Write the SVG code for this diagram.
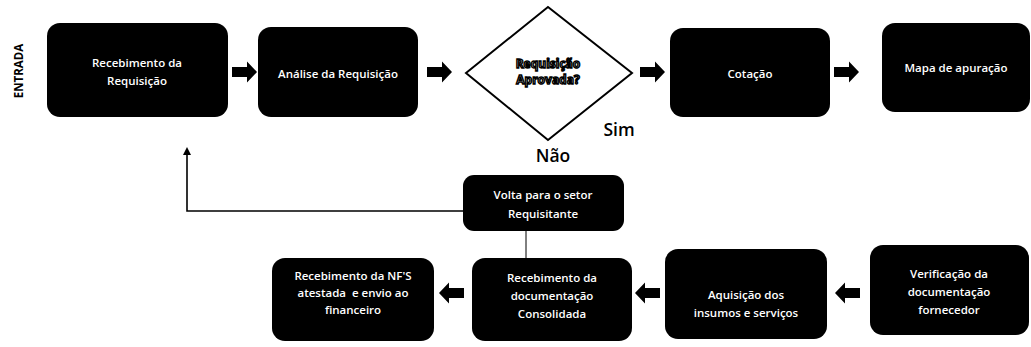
<svg xmlns="http://www.w3.org/2000/svg" width="1031" height="347" viewBox="0 0 1031 347">
<style>
.box{fill:#000;}
.t{font-family:"Open Sans","Noto Sans",sans-serif;font-size:11.5px;font-weight:600;fill:#fff;text-anchor:middle;dominant-baseline:central;white-space:pre;}
.lbl{font-family:"Open Sans","Noto Sans",sans-serif;font-size:17.5px;font-weight:600;fill:#000;text-anchor:middle;}
.dt{font-family:"Open Sans","Noto Sans",sans-serif;font-size:12px;font-weight:bold;fill:#fff;stroke:#000;stroke-width:1.4;text-anchor:middle;dominant-baseline:central;}
.ln{fill:none;stroke:#000;stroke-width:1.6;}
</style>
<defs>
<path id="ar" d="M0,-5 L15,-5 L15,-10.5 L25,0 L15,10.5 L15,5 L0,5 Z" fill="#000"/>
<marker id="tip" markerWidth="8" markerHeight="8" refX="6" refY="4" orient="auto" markerUnits="userSpaceOnUse">
<path d="M0,0 L8,4 L0,8 Z" fill="#000"/>
</marker>
</defs>
<text x="18" y="71" transform="rotate(-90 18 71)" style="font-family:'Open Sans','Noto Sans',sans-serif;font-size:11.5px;font-weight:bold;fill:#000;text-anchor:middle;dominant-baseline:central;">ENTRADA</text>
<g id="n1"><rect class="box" x="47" y="23" width="181" height="94" rx="13"/><text class="t" x="137" y="62">Recebimento da</text><text class="t" x="137" y="80">Requisição</text></g>
<g id="n2"><rect class="box" x="258" y="27" width="160" height="90" rx="13"/><text class="t" x="338" y="73">Análise da Requisição</text></g>
<g id="n3"><polygon points="466,73 548,7 632,73 548,140" fill="#fff" stroke="#000" stroke-width="2"/><text class="dt" x="548" y="63">Requisição</text><text class="dt" x="548" y="79">Aprovada?</text></g>
<g id="n4"><rect class="box" x="670" y="28" width="160" height="89" rx="13"/><text class="t" x="750" y="73">Cotação</text></g>
<g id="n5"><rect class="box" x="882" y="23" width="148" height="89" rx="13"/><text class="t" x="956" y="67">Mapa de apuração</text></g>
<g id="n6"><rect class="box" x="463" y="175" width="161" height="56" rx="11"/><text class="t" x="543" y="194">Volta para o setor</text><text class="t" x="543" y="213">Requisitante</text></g>
<g id="n7"><rect class="box" x="272" y="258" width="162" height="83" rx="13"/><text class="t" x="353" y="275">Recebimento da NF'S</text><text class="t" x="353" y="292" xml:space="preserve">atestada  e envio ao</text><text class="t" x="353" y="309">financeiro</text></g>
<g id="n8"><rect class="box" x="472" y="258" width="160" height="83" rx="13"/><text class="t" x="552" y="277">Recebimento da</text><text class="t" x="552" y="295">documentação</text><text class="t" x="552" y="313">Consolidada</text></g>
<g id="n9"><rect class="box" x="665" y="249" width="162" height="90" rx="13"/><text class="t" x="746" y="294">Aquisição dos</text><text class="t" x="746" y="312">insumos e serviços</text></g>
<g id="n10"><rect class="box" x="870" y="245" width="159" height="90" rx="13"/><text class="t" x="949" y="273">Verificação da</text><text class="t" x="949" y="291">documentação</text><text class="t" x="949" y="309">fornecedor</text></g>
<g id="labels"><text class="lbl" x="619" y="136">Sim</text><text class="lbl" x="553" y="162">Não</text></g>
<g id="connectors">
<use href="#ar" x="232" y="72"/>
<use href="#ar" x="427" y="72"/>
<use href="#ar" x="640" y="72"/>
<use href="#ar" x="834" y="72"/>
<use href="#ar" transform="translate(464 293) scale(-1 1)"/>
<use href="#ar" transform="translate(660 293) scale(-1 1)"/>
<use href="#ar" transform="translate(860 293) scale(-1 1)"/>
<polyline class="ln" points="463,211 187,211 187,149" marker-end="url(#tip)"/>
<line x1="526" y1="231" x2="526" y2="258" stroke="#000" stroke-width="1"/>
</g>
</svg>
